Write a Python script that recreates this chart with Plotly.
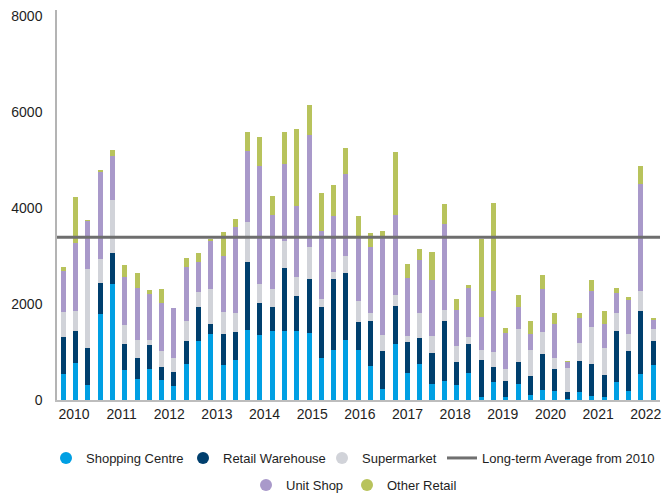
import plotly.graph_objects as go

years = ["2010", "2011", "2012", "2013", "2014", "2015", "2016",
         "2017", "2018", "2019", "2020", "2021", "2022"]

shopping_centre = [540, 770, 310, 1790, 2420, 625, 437, 646, 417, 292,
                   750, 1229, 1375, 729, 833, 1458, 1354, 1437, 1437, 1437,
                   1396, 875, 1042, 1250, 1042, 708, 229, 1167, 562, 750,
                   333, 396, 312, 562, 62, 375, 62, 333, 104, 208,
                   187, 21, 167, 83, 62, 375, 187, 542, 729]
retail_warehouse = [770, 670, 770, 645, 645, 540, 438, 500, 270, 291,
                    479, 708, 208, 646, 584, 1417, 667, 500, 1313, 730,
                    1125, 1062, 1479, 1396, 583, 938, 792, 791, 646, 542,
                    646, 1250, 480, 605, 771, 312, 334, 459, 396, 750,
                    459, 146, 645, 667, 459, 1062, 834, 1312, 500]
supermarket = [520, 420, 1650, 500, 1105, 395, 375, 104, 334, 292,
               417, 313, 729, 458, 395, 833, 396, 375, 562, 395,
               666, 167, 146, 354, 437, 166, 333, 229, 125, 520,
               354, 229, 333, 145, 209, 313, 250, 687, 542, 459,
               229, 500, 375, 771, 562, 375, 354, 417, 250]
unit_shop = [855, 1420, 1000, 1835, 915, 1000, 1083, 958, 1000, 1042,
             1125, 625, 1021, 1167, 1792, 1479, 2458, 1542, 1605, 1480,
             2334, 1417, 1166, 1708, 1355, 1375, 2021, 1667, 1209, 1105,
             1167, 1792, 750, 1021, 687, 1271, 750, 458, 333, 895,
             708, 125, 521, 750, 500, 417, 708, 2229, 208]
other_retail = [85, 940, 20, 20, 125, 250, 313, 84, 291, 0,
                187, 187, 21, 500, 167, 396, 604, 396, 666, 1604,
                625, 791, 646, 542, 416, 292, 146, 1313, 291, 229,
                583, 416, 229, 63, 1625, 1833, 104, 250, 271, 292,
                229, 20, 104, 229, 271, 104, 63, 375, 21]
long_term_average = 3390
average_label = "Long-term Average from 2010"

series_names = ["Shopping Centre", "Retail Warehouse", "Supermarket", "Unit Shop", "Other Retail"]
series_values = [shopping_centre, retail_warehouse, supermarket, unit_shop, other_retail]
series_colors = ["#009FE3", "#003F6E", "#D1D3D9", "#A999CA", "#B8C35C"]

# legend placement: (legend id, left px, row centre px)
legend_slots = {
    "Shopping Centre": ("legend", 46, 458),
    "Retail Warehouse": ("legend2", 183, 458),
    "Supermarket": ("legend3", 322, 458),
    average_label: ("legend4", 442, 458),
    "Unit Shop": ("legend5", 246, 485),
    "Other Retail": ("legend6", 347, 485),
}

W, H = 669, 495
n = len(shopping_centre)
x = list(range(n))

fig = go.Figure()
for name, vals, color in zip(series_names, series_values, series_colors):
    fig.add_trace(go.Bar(x=x, y=vals, name=name, marker=dict(color=color, line=dict(width=0)),
                         showlegend=False))

# legend entries
for name, color in zip(series_names, series_colors):
    fig.add_trace(go.Scatter(x=[None], y=[None], mode="markers", name=name,
                             marker=dict(size=12, color=color), legend=legend_slots[name][0]))
fig.add_trace(go.Scatter(x=[None], y=[None], mode="lines", name=average_label,
                         line=dict(color="#707070", width=3), legend=legend_slots[average_label][0]))

fig.add_shape(type="line", xref="paper", x0=0, x1=1, yref="y",
              y0=long_term_average, y1=long_term_average,
              line=dict(color="#6E6E6E", width=3))

tick_step = 3.877
tickvals = [0.87 + tick_step * i for i in range(len(years))]

legend_layouts = {}
for name, (lid, left, cy) in legend_slots.items():
    legend_layouts[lid] = dict(orientation="h", xref="container", x=left / W, xanchor="left",
                               yref="container", y=(H - cy) / H, yanchor="middle",
                               bgcolor="rgba(0,0,0,0)", font=dict(size=13), itemwidth=30)

fig.update_layout(
    width=W, height=H,
    barmode="stack", bargap=0.59,
    plot_bgcolor="white", paper_bgcolor="white",
    margin=dict(l=57, r=9, t=10, b=95, autoexpand=False),
    font=dict(family="Liberation Sans, Arial, sans-serif", size=14, color="#1e1e1e"),
    xaxis=dict(range=[-0.51, 48.55], tickvals=tickvals, ticktext=years,
               showline=True, linecolor="#BDBDBD", linewidth=2,
               showgrid=False, zeroline=False, ticks=""),
    yaxis=dict(range=[0, 8125], tickvals=[0, 2000, 4000, 6000, 8000],
               showline=True, linecolor="#B4B4B4", linewidth=1.5,
               showgrid=False, zeroline=False, ticks="", ticklabelstandoff=10),
    **legend_layouts,
)

fig.write_html("out.html")
